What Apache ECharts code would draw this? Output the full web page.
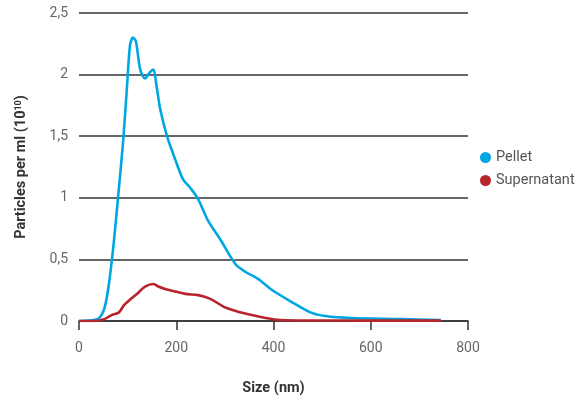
<!DOCTYPE html>
<html><head><meta charset="utf-8">
<script src="https://cdn.jsdelivr.net/npm/echarts@6/dist/echarts.min.js"></script>
<style>html,body{margin:0;padding:0;background:#fff}#c{width:588px;height:401px}</style>
</head><body><div id="c"></div>
<script>
const pelletX = [0,33,43,52,60,70,80,91,99,105,111,117,126,136,146,153,159,167,181,198,214,229,245,266,291,322,342,369,394,435,476,507,559,662,744];
const pelletY = [0,0.01,0.03,0.1,0.26,0.58,0.99,1.47,1.92,2.24,2.30,2.27,2.04,1.97,2.02,2.04,1.92,1.72,1.50,1.31,1.15,1.08,0.99,0.81,0.66,0.46,0.40,0.34,0.26,0.16,0.07,0.04,0.024,0.016,0.008];
const superX = [0,33,52,68,82,93,107,122,136,153,163,177,198,219,245,270,301,342,384,414,476,744];
const superY = [0,0,0.015,0.05,0.07,0.13,0.18,0.23,0.28,0.30,0.28,0.26,0.24,0.22,0.21,0.18,0.11,0.06,0.025,0.008,0.004,0.003];
const xTicks = [0,200,400,600,800];
const yTicks = [0,0.5,1,1.5,2,2.5];
const seriesNames = ['Pellet','Supernatant'];
const colors = ['#00a6e2','#b8242b'];

const zip = (xs, ys) => xs.map((x,i)=>[x, ys[i]]);
const chart = echarts.init(document.getElementById('c'));
const font = 'Roboto, "DejaVu Sans", sans-serif';
chart.setOption({
  animation:false,
  grid:{left:79,right:120,top:13,bottom:79},
  legend:{
    data:seriesNames, orient:'vertical', left:475, top:145, icon:'circle',
    itemWidth:11,itemHeight:11,itemGap:8,
    textStyle:{fontFamily:font,fontSize:14.5,color:'#555'}
  },
  xAxis:{
    type:'value', min:0, max:800, interval:200,
    name:'Size (nm)', nameLocation:'middle', nameGap:60,
    nameTextStyle:{fontFamily:font,fontSize:14.5,fontWeight:'bold',color:'#333'},
    axisLine:{lineStyle:{color:'#333',width:1.5}},
    axisTick:{show:true,length:9,lineStyle:{color:'#333',width:1.5}},
    axisLabel:{fontFamily:font,fontSize:14,color:'#666',margin:20},
    splitLine:{show:false}
  },
  yAxis:{
    type:'value', min:0, max:2.5, interval:0.5,
    name:'Particles per ml (10{s|10})', nameLocation:'middle', nameGap:50,
    nameTextStyle:{fontFamily:font,fontSize:14.5,fontWeight:'bold',color:'#333',
      rich:{s:{fontSize:9,fontWeight:'bold',color:'#333',verticalAlign:'top',padding:[0,0,6,0]}}},
    axisLine:{show:false}, axisTick:{show:false},
    axisLabel:{fontFamily:font,fontSize:14,color:'#666',margin:11,
      formatter:v=>String(v).replace('.',',')},
    splitLine:{lineStyle:{color:'#333',width:1.5}}
  },
  series:[
    {name:seriesNames[0],type:'line',data:zip(pelletX,pelletY),smooth:0.3,showSymbol:false,
     itemStyle:{color:colors[0]},lineStyle:{width:2.6,color:colors[0]},z:3},
    {name:seriesNames[1],type:'line',data:zip(superX,superY),smooth:0.3,showSymbol:false,
     itemStyle:{color:colors[1]},lineStyle:{width:2.6,color:colors[1]},z:4}
  ]
});
</script></body></html>
